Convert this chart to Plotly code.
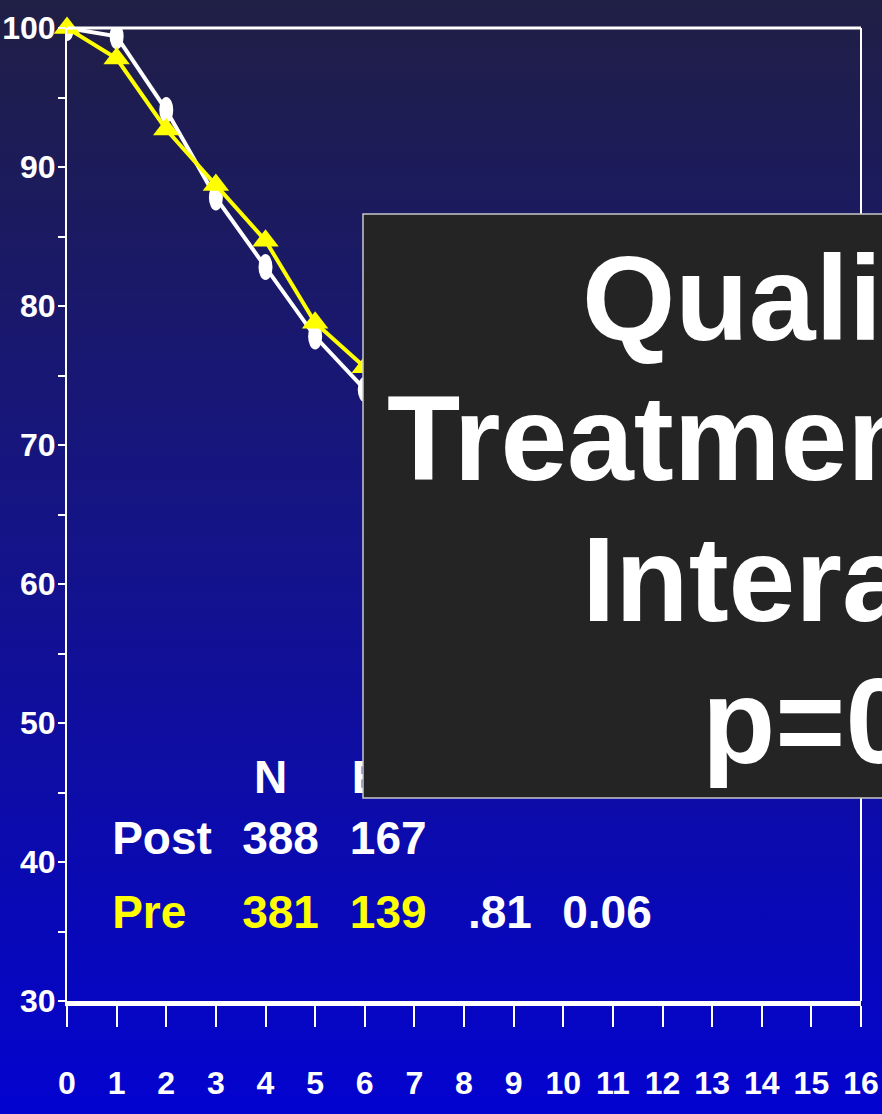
import base64
import plotly.graph_objects as go

# survival (%) by year
years = [0, 1, 2, 3, 4, 5, 6]
post = [100, 99.4, 94.1, 87.8, 82.8, 77.8, 74.0]
pre = [100, 97.8, 92.7, 88.7, 84.7, 78.8, 75.6]

x_ticks = list(range(0, 17))
y_ticks = [30, 40, 50, 60, 70, 80, 90, 100]

# numbers-at-risk table under the curves
header_text = ["N", "E"]
header_x = [3.77, 5.74]
post_text = ["Post", "388", "167"]
post_x = [0.91, 3.53, 5.70]
pre_text = ["Pre", "381", "139"]
pre_x = [0.91, 3.53, 5.70]
stat_text = [".81", "0.06"]
stat_x = [8.08, 9.98]
row_y = {"header": 45.8, "post": 41.4, "pre": 36.1}

box_lines = ["Quality", "Treatment", "Interaction", "p=0.03"]

W, H = 882, 1114
L, R, T, B = 67, 21, 28, 113
pw, ph = W - L - R, H - T - B


def px_x(p):
    return (p - L) / pw


def px_y(p):
    return 1 - (p - T) / ph


svg = (
    "<svg xmlns='http://www.w3.org/2000/svg' width='882' height='1114' preserveAspectRatio='none'>"
    "<defs><linearGradient id='g' x1='0' y1='0' x2='0' y2='1'>"
    "<stop offset='0' stop-color='#201f45'/>"
    "<stop offset='0.5' stop-color='#14138a'/>"
    "<stop offset='1' stop-color='#0303d0'/>"
    "</linearGradient></defs><rect width='882' height='1114' fill='url(#g)'/></svg>"
)
bg_src = "data:image/svg+xml;base64," + base64.b64encode(svg.encode()).decode()

fig = go.Figure()

fig.add_trace(go.Scatter(x=years, y=post, mode="lines",
                         line=dict(color="white", width=4),
                         cliponaxis=False, hoverinfo="skip", showlegend=False))
fig.add_trace(go.Scatter(x=years, y=pre, mode="lines+markers",
                         line=dict(color="#ffff00", width=4),
                         marker=dict(symbol="triangle-up", size=23, color="#ffff00"),
                         cliponaxis=False, hoverinfo="skip", showlegend=False))

tfont = dict(family="Liberation Sans", size=46, color="white", weight="bold")
fig.add_trace(go.Scatter(x=header_x, y=[row_y["header"]] * len(header_x), text=header_text,
                         mode="text", textposition="middle right", textfont=tfont,
                         cliponaxis=False, hoverinfo="skip", showlegend=False))
fig.add_trace(go.Scatter(x=post_x, y=[row_y["post"]] * len(post_x), text=post_text,
                         mode="text", textposition="middle right", textfont=tfont,
                         cliponaxis=False, hoverinfo="skip", showlegend=False))
fig.add_trace(go.Scatter(x=pre_x, y=[row_y["pre"]] * len(pre_x), text=pre_text,
                         mode="text", textposition="middle right",
                         textfont=dict(tfont, color="#ffff00"),
                         cliponaxis=False, hoverinfo="skip", showlegend=False))
fig.add_trace(go.Scatter(x=stat_x, y=[row_y["pre"]] * len(stat_x), text=stat_text,
                         mode="text", textposition="middle right", textfont=tfont,
                         cliponaxis=False, hoverinfo="skip", showlegend=False))

shapes = []
# white oval markers of the Post curve
for xv, yv in zip(years, post):
    shapes.append(dict(type="circle", xref="x", yref="y", xsizemode="pixel", ysizemode="pixel",
                       xanchor=xv, yanchor=yv, x0=-7, x1=7, y0=-13, y1=13,
                       fillcolor="white", line=dict(width=0), layer="below"))
# top and right frame lines
shapes.append(dict(type="line", xref="paper", yref="paper", x0=0, x1=1, y0=1, y1=1,
                   line=dict(color="white", width=3)))
shapes.append(dict(type="line", xref="paper", yref="paper", x0=1, x1=1, y0=0, y1=1,
                   line=dict(color="white", width=2)))
# dark overlay box
shapes.append(dict(type="rect", xref="paper", yref="paper",
                   x0=px_x(363), x1=px_x(900), y0=px_y(798), y1=px_y(214),
                   fillcolor="#242424", line=dict(color="#c8c8c8", width=1.5), layer="above"))

ann = []
box_left = [580, 385, 580, 700]
box_mid = [298, 438, 579, 721]
for txt, lx, my in zip(box_lines, box_left, box_mid):
    ann.append(dict(text=txt, xref="paper", yref="paper", x=px_x(lx), y=px_y(my),
                    xanchor="left", yanchor="middle", showarrow=False,
                    font=dict(family="Liberation Sans", size=120, color="white", weight="bold")))

afont = dict(family="Liberation Sans", size=32, color="white", weight="bold")
fig.update_layout(
    width=W, height=H,
    margin=dict(l=L, r=R, t=T, b=B, pad=0),
    paper_bgcolor="#14138a", plot_bgcolor="rgba(0,0,0,0)",
    images=[dict(source=bg_src, xref="paper", yref="paper", x=-L / pw, y=1 + T / ph,
                 sizex=W / pw, sizey=H / ph, xanchor="left", yanchor="top",
                 sizing="stretch", layer="below")],
    shapes=shapes, annotations=ann,
    xaxis=dict(range=[0, 16], tickvals=x_ticks, showgrid=False, zeroline=False,
               showline=True, linecolor="white", linewidth=5, automargin=False,
               ticks="outside", ticklen=21, tickwidth=2, tickcolor="white",
               tickfont=afont, tickangle=0, ticklabelstandoff=29),
    yaxis=dict(range=[30, 100], tickvals=y_ticks, showgrid=False, zeroline=False,
               showline=True, linecolor="white", linewidth=2, automargin=False,
               ticks="outside", ticklen=7, tickwidth=2, tickcolor="white",
               minor=dict(dtick=5, ticks="outside", ticklen=7, tickwidth=2, tickcolor="white"),
               tickfont=afont, ticklabelstandoff=-4),
)

fig.write_html("out.html", config={"displayModeBar": False},
               post_script="document.body.style.margin='0';document.body.style.overflow='hidden';")
